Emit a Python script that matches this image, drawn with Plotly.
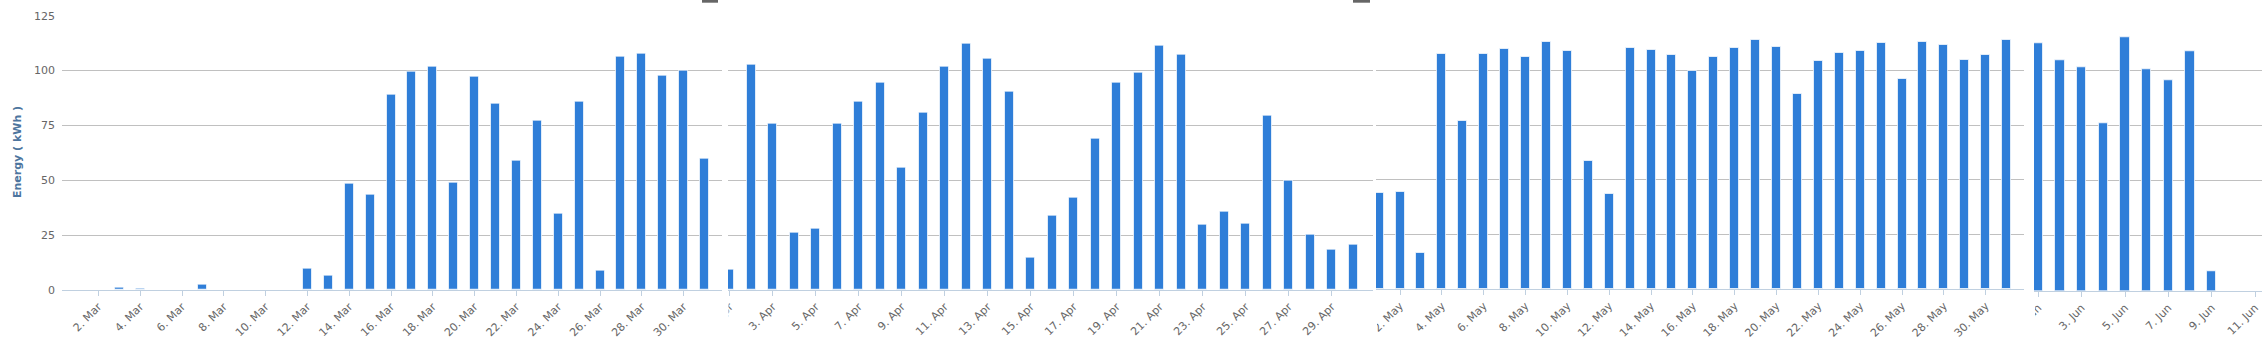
import pandas as pd
import plotly.graph_objects as go

W, H = 2262, 342

# ---------------- data (daily energy, kWh) ----------------
mar_start = "2013-03-01"
mar_kwh = [0, 0, 1.2, 0.6, 0, 0, 2.5, 0, 0, 0, 0, 9.6, 6.4, 48.3, 43.3, 88.9,
           99.3, 101.6, 48.8, 97.1, 84.8, 58.8, 77.0, 34.6, 85.7, 8.7, 106.2,
           107.5, 97.5, 99.8, 59.7]
apr_start = "2013-04-01"
apr_kwh = [9.1, 102.7, 75.9, 26.3, 28.1, 75.9, 85.8, 94.5, 55.9, 80.8, 101.8,
           112.2, 105.4, 90.4, 14.6, 34.0, 42.2, 69.1, 94.5, 99.0, 111.3, 107.2,
           29.9, 35.8, 30.4, 79.4, 50.0, 25.1, 18.2, 20.8]
may_start = "2013-05-01"
may_kwh = [44.1, 44.4, 16.5, 107.6, 76.9, 107.6, 109.9, 106.2, 113.1, 109.0,
           58.6, 43.5, 110.3, 109.4, 107.1, 99.8, 106.2, 110.3, 114.0, 110.8,
           89.3, 104.4, 108.1, 109.0, 112.6, 96.2, 113.1, 111.7, 104.9, 107.1,
           114.0]
jun_start = "2013-06-01"
jun_kwh = [112.2, 104.7, 101.6, 76.2, 115.2, 100.7, 95.7, 108.8, 9.1]

y_ticks = [0, 25, 50, 75, 100, 125]
y_title = "Energy ( kWh )"

# ---------------- layout helpers ----------------
def fx(px):
    return px / W

def fy(py):
    return 1 - py / H

# pixel layout of the four panels: (x_left, x_right), (y_top(125), y_bottom(0))
panels = [
    dict(start=mar_start, vals=mar_kwh, x=(62, 722), y=(15.7, 290),
         rng=["2013-02-28 06:11", "2013-03-31 20:05"], tick0="2013-03-02"),
    dict(start=apr_start, vals=apr_kwh, x=(728, 1373), y=(15.7, 290),
         rng=["2013-03-31 22:06", "2013-04-30 22:05"], tick0="2013-04-01"),
    dict(start=may_start, vals=may_kwh, x=(1376, 2024), y=(16, 289),
         rng=["2013-04-30 20:24", "2013-05-31 19:55"], tick0="2013-05-02"),
    dict(start=jun_start, vals=jun_kwh, x=(2034, 2262), y=(15.3, 291),
         rng=["2013-05-31 19:12", "2013-06-11 07:41"], tick0="2013-06-01"),
]

BAR = "#2F7ED8"
GRID = "#C0C0C0"
AXIS = "#C0D0E0"
LABEL = "#666666"
FONT = "DejaVu Sans"
DAY = 86400000

fig = go.Figure()
layout = dict(
    width=W, height=H,
    margin=dict(l=0, r=0, t=0, b=0, pad=0, autoexpand=False),
    paper_bgcolor="white", plot_bgcolor="white",
    showlegend=False, bargap=0,
    font=dict(family=FONT, size=11, color=LABEL),
)

for i, p in enumerate(panels, start=1):
    sfx = "" if i == 1 else str(i)
    dates = pd.date_range(p["start"], periods=len(p["vals"]), freq="D")
    fig.add_trace(go.Bar(
        x=dates, y=p["vals"], width=0.43 * DAY,
        marker=dict(color=BAR, line=dict(color="rgba(255,255,255,0.7)", width=1)),
        xaxis="x" + sfx, yaxis="y" + sfx, hoverinfo="x+y",
    ))
    layout["xaxis" + sfx] = dict(
        type="date", domain=[fx(p["x"][0]), fx(p["x"][1])], range=p["rng"],
        anchor="y" + sfx, tickmode="linear", tick0=p["tick0"], dtick=2 * DAY,
        tickformat="%-d. %b", tickangle=-45, ticks="outside", ticklen=5,
        tickcolor=AXIS, tickwidth=1, showline=True, linecolor=AXIS, linewidth=1,
        showgrid=False, zeroline=False, automargin=False,
        tickfont=dict(family=FONT, size=11, color=LABEL),
    )
    layout["yaxis" + sfx] = dict(
        domain=[fy(p["y"][1]), fy(p["y"][0])], range=[0, 125],
        anchor="x" + sfx, tickmode="array", tickvals=y_ticks,
        showgrid=True, gridcolor=GRID, gridwidth=1, zeroline=False,
        showline=False, showticklabels=(i == 1), ticks="",
        ticklabelstandoff=6, automargin=False,
        tickfont=dict(family=FONT, size=11, color=LABEL),
    )

fig.update_layout(**layout)

# y-axis title
fig.add_annotation(
    x=fx(17), y=fy(152), xref="paper", yref="paper", text=y_title,
    textangle=-90, showarrow=False, xanchor="center", yanchor="middle",
    font=dict(family=FONT, size=11, color="#4D759E", weight="bold"),
)

# white masks emulating the cropped screenshots (labels cut at panel edges)
for x0, x1 in [(690, 728.5), (1338, 1377), (1992, 2035)]:
    fig.add_shape(type="rect", xref="paper", yref="paper",
                  x0=fx(x0), x1=fx(x1), y0=0, y1=fy(297),
                  fillcolor="white", line=dict(width=0), layer="above")

# bottoms of the export buttons peeking in at the top edge
for x0, x1 in [(702, 718), (1353, 1370)]:
    fig.add_shape(type="rect", xref="paper", yref="paper",
                  x0=fx(x0), x1=fx(x1), y0=fy(2.7), y1=1.01,
                  fillcolor="#666666", line=dict(width=0), layer="above")

fig.write_html("out.html")
